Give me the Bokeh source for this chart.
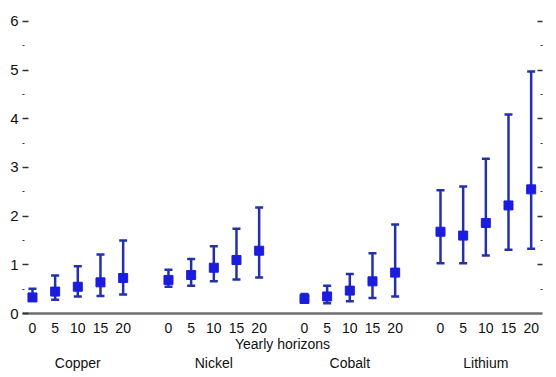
from bokeh.plotting import figure
from bokeh.models import Range1d, FixedTicker, LinearAxis, ColumnDataSource
from bokeh.embed import file_html
from bokeh.resources import INLINE

metals = ["Copper", "Nickel", "Cobalt", "Lithium"]
horizons = [0, 5, 10, 15, 20]
x_title = "Yearly horizons"

copper_mid = [0.33, 0.45, 0.55, 0.64, 0.73]
copper_low = [0.27, 0.28, 0.35, 0.36, 0.39]
copper_high = [0.51, 0.78, 0.97, 1.21, 1.50]

nickel_mid = [0.69, 0.79, 0.94, 1.10, 1.29]
nickel_low = [0.55, 0.57, 0.66, 0.70, 0.74]
nickel_high = [0.90, 1.12, 1.38, 1.74, 2.18]

cobalt_mid = [0.30, 0.35, 0.47, 0.66, 0.84]
cobalt_low = [0.22, 0.21, 0.25, 0.32, 0.35]
cobalt_high = [0.40, 0.57, 0.81, 1.24, 1.83]

lithium_mid = [1.68, 1.60, 1.86, 2.22, 2.55]
lithium_low = [1.03, 1.03, 1.19, 1.31, 1.33]
lithium_high = [2.53, 2.61, 3.18, 4.09, 4.97]

mids = [copper_mid, nickel_mid, cobalt_mid, lithium_mid]
lows = [copper_low, nickel_low, cobalt_low, lithium_low]
highs = [copper_high, nickel_high, cobalt_high, lithium_high]

xs, ym, yl, yh, tick_pos, tick_lab = [], [], [], [], [], []
group_centers = []
for g in range(len(metals)):
    base = g * (len(horizons) + 1)
    for j, h in enumerate(horizons):
        x = base + j
        xs.append(x)
        ym.append(mids[g][j])
        yl.append(lows[g][j])
        yh.append(highs[g][j])
        tick_pos.append(x)
        tick_lab.append(str(h))
    group_centers.append(base + (len(horizons) - 1) / 2)

src = ColumnDataSource(dict(x=xs, mid=ym, low=yl, high=yh))

p = figure(width=556, height=377, output_backend="svg", toolbar_location=None,
           x_range=Range1d(-0.44, 22.5), y_range=Range1d(0, 6.43),
           min_border_left=22, min_border_right=14, min_border_top=0,
           min_border_bottom=64, y_axis_location=None, x_axis_location=None)
p.outline_line_color = None
p.xgrid.visible = False
p.ygrid.visible = False
p.background_fill_color = "white"
p.border_fill_color = "white"

font = "Liberation Sans"
fs = "14px"

# left axis
yt = FixedTicker(ticks=[0, 1, 2, 3, 4, 5, 6], minor_ticks=[0.5, 1.5, 2.5, 3.5, 4.5, 5.5])
la = LinearAxis(ticker=yt, axis_line_color=None, major_tick_in=6, major_tick_out=0,
                minor_tick_in=2, minor_tick_out=0, major_tick_line_color="#333333",
                minor_tick_line_color="#333333", major_tick_line_width=1.3,
                major_label_text_font=font, major_label_text_font_size="15px",
                major_label_text_color="#111111", major_label_standoff=4)
p.add_layout(la, "left")

# right axis (ticks only)
yt2 = FixedTicker(ticks=[1, 2, 3, 4, 5, 6], minor_ticks=[0.5, 1.5, 2.5, 3.5, 4.5, 5.5])
ra = LinearAxis(ticker=yt2, axis_line_color=None, major_tick_in=5, major_tick_out=0,
                minor_tick_in=2, minor_tick_out=0, major_tick_line_color="#333333",
                minor_tick_line_color="#333333", major_tick_line_width=1.3,
                major_label_text_color=None, major_label_text_font_size="1px")
p.add_layout(ra, "right")

# bottom axis: horizons
xa = LinearAxis(ticker=FixedTicker(ticks=tick_pos),
                axis_line_color="#6e6e6e", axis_line_width=2.5,
                major_tick_in=0, major_tick_out=0, minor_tick_in=0, minor_tick_out=0,
                major_label_text_font=font, major_label_text_font_size=fs,
                major_label_text_color="#111111", major_label_standoff=9,
                axis_label=x_title, axis_label_text_font=font,
                axis_label_text_font_size=fs, axis_label_text_font_style="normal",
                axis_label_text_color="#111111", axis_label_standoff=0)
xa.major_label_overrides = {k: v for k, v in zip(tick_pos, tick_lab)}
p.add_layout(xa, "below")

# bottom axis: metal groups
ga = LinearAxis(ticker=FixedTicker(ticks=group_centers),
                axis_line_color=None,
                major_tick_in=0, major_tick_out=0, minor_tick_in=0, minor_tick_out=0,
                major_label_text_font=font, major_label_text_font_size=fs,
                major_label_text_color="#111111", major_label_standoff=0)
ga.major_label_overrides = {k: v for k, v in zip(group_centers, metals)}
p.add_layout(ga, "below")

# error bars
bar_color = "#2430a6"
p.segment(x0="x", y0="low", x1="x", y1="high", source=src, line_color=bar_color, line_width=2.5)
p.scatter(x="x", y="low", source=src, marker="dash", size=8, line_color=bar_color, line_width=2.5)
p.scatter(x="x", y="high", source=src, marker="dash", size=8, line_color=bar_color, line_width=2.5)
p.scatter(x="x", y="mid", source=src, marker="square", size=9, fill_color="#1c1ce0",
          line_color="#1c1ce0")

open("out.html", "w").write(file_html(p, INLINE))
